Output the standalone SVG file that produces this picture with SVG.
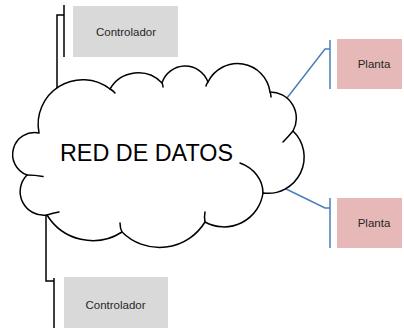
<svg xmlns="http://www.w3.org/2000/svg" width="404" height="331" viewBox="0 0 404 331">
<style>
.ctrl{fill:#d9d9d9}
.plant{fill:#e6b9b8}
.lbl{font-family:"Liberation Sans",Arial,sans-serif;font-size:11.5px;fill:#262626;text-anchor:middle}
.big{font-family:"Liberation Sans",Arial,sans-serif;font-size:23.5px;fill:#000}
.cloud{fill:#fff;stroke:#000;stroke-width:1.5;stroke-linejoin:round}
.curl{fill:none;stroke:#000;stroke-width:1.5;stroke-linecap:round}
.blk{fill:none;stroke:#000;stroke-width:1.5}
.blu{fill:none;stroke:#4a7ebb;stroke-width:1.5}
</style>
<rect width="404" height="331" fill="#fff"/>
<g id="connectors">
<path class="blk" d="M57 88 V15 H64 M64 5 V57"/>
<path class="blk" d="M46 215 V281 H54 M54 278 V328"/>
<path class="blu" d="M287 98 L325 49 H330 M330 40 V89"/>
<path class="blu" d="M282 187 L325 208 H330 M330 198 V248"/>
</g>
<g id="red-de-datos">
<path class="cloud" d="M39 133 A44.6 44.6 0 0 1 110 89 A32.8 32.8 0 0 1 162 83 A24.3 24.3 0 0 1 208 82 A32.8 32.8 0 0 1 270 92 A26.2 26.2 0 0 1 293 131 A36.2 36.2 0 0 1 263 193 A39.4 39.4 0 0 1 205 222 A53.3 53.3 0 0 1 122 232 A53.7 53.7 0 0 1 47 215 A23.6 23.6 0 0 1 27 175 A21.9 21.9 0 0 1 39 133 Z"/>
<path class="curl" d="M110 89 Q113 90.5 115 93 M162 83 Q163 85 163 87 M208 82 Q206.5 84 206 86 M270 92 Q271 94 271 97 M293 131 Q288 137 283 142 M263 193 C263 180 254 168 240 163 M205 222 Q204 217 205 212 M122 232 Q120 228 120 223 M47 215 Q53 213 59 212 M27 175 Q35 175 43 176.5"/>
<text class="big" x="60" y="161" textLength="173" lengthAdjust="spacingAndGlyphs">RED DE DATOS</text>
</g>
<g id="controlador-1">
<rect class="ctrl" x="73" y="6" width="105" height="51"/>
<text class="lbl" x="126" y="36">Controlador</text>
</g>
<g id="controlador-2">
<rect class="ctrl" x="64" y="277" width="104" height="51"/>
<text class="lbl" x="115.5" y="309">Controlador</text>
</g>
<g id="planta-1">
<rect class="plant" x="337" y="39" width="65" height="50"/>
<text class="lbl" x="374" y="68">Planta</text>
</g>
<g id="planta-2">
<rect class="plant" x="337" y="198" width="65" height="50"/>
<text class="lbl" x="374" y="227">Planta</text>
</g>
</svg>
